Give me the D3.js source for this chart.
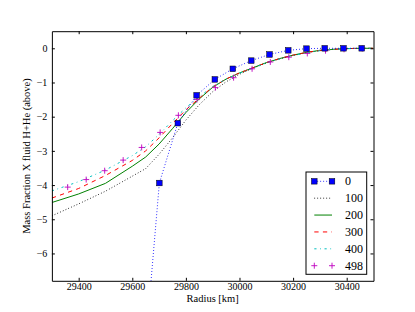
<!DOCTYPE html>
<html><head><meta charset="utf-8">
<script src="https://cdn.jsdelivr.net/npm/d3@7"></script>
<style>body{margin:0;background:#fff}svg{display:block}text{font-family:"Liberation Serif",serif;fill:#000}</style>
</head><body><svg id="c" width="415" height="312"></svg>
<script>
const xTicks = [29400,29600,29800,30000,30200,30400];
const yTicks = [-6,-5,-4,-3,-2,-1,0];
const seriesNames = ["0","100","200","300","400","498"];

const radius0 = [29632,29701,29770,29840,29908,29975,30044,30112,30182,30250,30318,30388,30456];
const x0 =      [-10.3,-3.94,-2.19,-1.375,-0.91,-0.60,-0.36,-0.18,-0.06,-0.01,0,0,0];

const radiusGrid = [29300,29400,29500,29600,29650,29700,29750,29800,29850,29900,29950,30000,30050,30100,30150,30200,30250,30300,30350,30400,30450,30500];
const x100 = [-4.90,-4.55,-4.18,-3.74,-3.52,-3.10,-2.62,-2.10,-1.65,-1.27,-0.98,-0.76,-0.58,-0.43,-0.31,-0.21,-0.13,-0.07,-0.03,-0.01,0,0];
const x200 = [-4.51,-4.26,-3.95,-3.45,-3.18,-2.80,-2.35,-1.88,-1.48,-1.14,-0.90,-0.72,-0.57,-0.42,-0.30,-0.20,-0.12,-0.06,-0.03,-0.01,0,0];
const x300 = [-4.38,-4.10,-3.72,-3.28,-3.00,-2.62,-2.20,-1.80,-1.46,-1.13,-0.90,-0.72,-0.57,-0.42,-0.30,-0.20,-0.12,-0.06,-0.03,-0.01,0,0];
const x400 = [-4.17,-3.90,-3.56,-3.14,-2.88,-2.52,-2.12,-1.74,-1.42,-1.12,-0.90,-0.73,-0.58,-0.43,-0.31,-0.21,-0.13,-0.07,-0.03,-0.01,0,0];

const radius498 = [29359,29428,29497,29566,29635,29704,29772,29841,29910,29978,30047,30115,30184,30253,30321,30390,30458];
const x498 =      [-4.06,-3.84,-3.58,-3.27,-2.90,-2.46,-1.96,-1.50,-1.15,-0.86,-0.60,-0.40,-0.26,-0.15,-0.07,-0.03,-0.01];

const W=415,H=312, L=51.875, R=373.5, T=31.2, B=280.8;
const svg = d3.select("#c");
const x = d3.scaleLinear().domain([29300,30500]).range([L,R]);
const y = d3.scaleLinear().domain([-6.8,0.5]).range([B,T]);

svg.append("defs").append("clipPath").attr("id","clip").append("rect")
  .attr("x",L).attr("y",T).attr("width",R-L).attr("height",B-T);

const g = svg.append("g").attr("clip-path","url(#clip)");
const line = d3.line().x(d=>x(d[0])).y(d=>y(d[1]));
const zip = (a,b)=>a.map((v,i)=>[v,b[i]]);

const styles = {
  "100":{color:"#000000",dash:"0.8,2.2"},
  "200":{color:"#008000",dash:null},
  "300":{color:"#ff0000",dash:"4.3,4.3"},
  "400":{color:"#00bfbf",dash:"2.2,3.6,0.8,3.6"},
  "0":{color:"#0000ff",dash:"0.8,2.2"}
};
function drawLine(data, st){
  g.append("path").datum(data).attr("d",line).attr("fill","none")
   .attr("stroke",st.color).attr("stroke-width",1)
   .attr("stroke-dasharray",st.dash);
}
drawLine(zip(radiusGrid,x100),styles["100"]);
drawLine(zip(radiusGrid,x200),styles["200"]);
drawLine(zip(radiusGrid,x300),styles["300"]);
drawLine(zip(radiusGrid,x400),styles["400"]);
const d498 = zip(radius498,x498);
g.selectAll(".plus").data(d498).enter().append("path")
  .attr("d",d=>`M${x(d[0])-3},${y(d[1])}h6M${x(d[0])},${y(d[1])-3}v6`)
  .attr("stroke","#bf00bf").attr("stroke-width",0.9).attr("fill","none");
const d0 = zip(radius0,x0);
drawLine(d0,styles["0"]);
g.selectAll(".sq").data(d0).enter().append("rect")
  .attr("x",d=>x(d[0])-2.8).attr("y",d=>y(d[1])-2.8).attr("width",5.6).attr("height",5.6)
  .attr("fill","#0000ff").attr("stroke","#000").attr("stroke-width",0.5);

// axes
const fmt = d3.format("d");
const ax = (a)=>a.tickSizeOuter(0);
svg.append("g").attr("transform",`translate(0,${B})`)
  .call(ax(d3.axisBottom(x).tickValues(xTicks).tickSize(-3).tickPadding(2).tickFormat(fmt)));
svg.append("g").attr("transform",`translate(0,${T})`)
  .call(ax(d3.axisTop(x).tickValues(xTicks).tickSize(-3).tickFormat("")));
svg.append("g").attr("transform",`translate(${L},0)`)
  .call(ax(d3.axisLeft(y).tickValues(yTicks).tickSize(-3).tickPadding(4.5).tickFormat(fmt)));
svg.append("g").attr("transform",`translate(${R},0)`)
  .call(ax(d3.axisRight(y).tickValues(yTicks).tickSize(-3).tickFormat("")));
svg.selectAll(".tick text").attr("font-family","Liberation Serif").attr("font-size",10);
svg.selectAll(".domain").attr("stroke","#000");
svg.selectAll(".tick line").attr("stroke","#000");

svg.append("text").attr("x",(L+R)/2).attr("y",301.5).attr("text-anchor","middle")
  .attr("font-size",10.5).text("Radius [km]");
svg.append("text").attr("transform",`translate(30,${(T+B)/2}) rotate(-90)`)
  .attr("text-anchor","middle").attr("font-size",10.5).text("Mass Fraction X fluid H+He (above)");

// legend
const lg = svg.append("g");
lg.append("rect").attr("x",306).attr("y",172).attr("width",60.7).attr("height",102.3)
  .attr("fill","#fff").attr("stroke","#000").attr("stroke-width",1);
const ly = d3.scalePoint().domain(seriesNames).range([181.3,265.7]);
const lx1=314.3, lx2=332;
seriesNames.forEach(n=>{
  const yy = ly(n);
  if(n==="498"){
    [lx1,lx2].forEach(px=>lg.append("path").attr("d",`M${px-3},${yy}h6M${px},${yy-3}v6`)
      .attr("stroke","#bf00bf").attr("stroke-width",0.9));
  } else {
    const st = styles[n];
    lg.append("line").attr("x1",lx1).attr("x2",lx2).attr("y1",yy).attr("y2",yy)
      .attr("stroke",st.color).attr("stroke-width",1).attr("stroke-dasharray",st.dash);
    if(n==="0"){
      [lx1,lx2].forEach(px=>lg.append("rect").attr("x",px-2.8).attr("y",yy-2.8)
        .attr("width",5.6).attr("height",5.6).attr("fill","#0000ff").attr("stroke","#000").attr("stroke-width",0.5));
    }
  }
  lg.append("text").attr("x",345).attr("y",yy+4).attr("font-size",12).text(n);
});
</script></body></html>
